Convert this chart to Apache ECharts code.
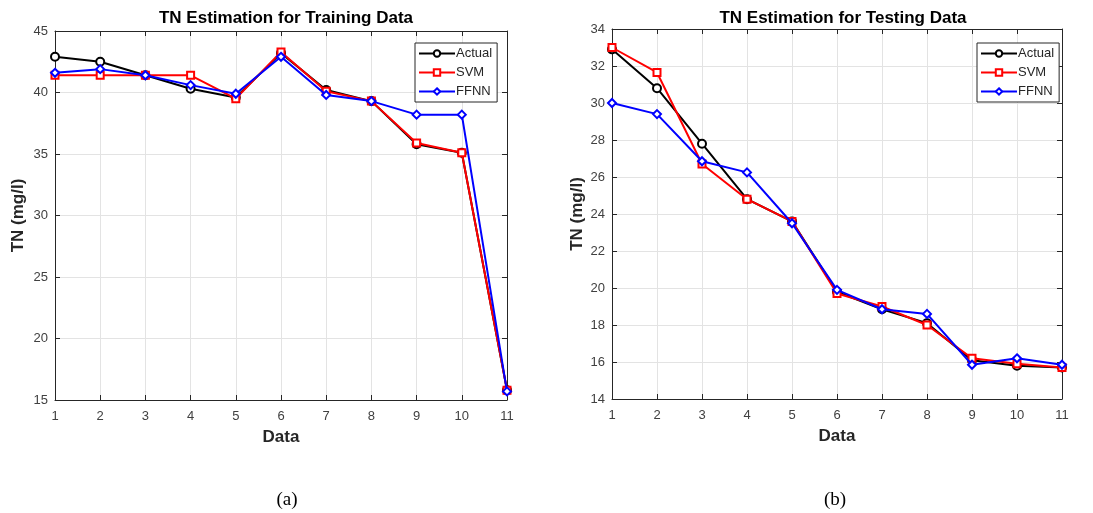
<!DOCTYPE html>
<html>
<head>
<meta charset="utf-8">
<script src="https://cdn.jsdelivr.net/npm/echarts@6/dist/echarts.min.js"></script>
<style>
  html, body { margin: 0; padding: 0; background: #fff; }
  #chart { width: 1093px; height: 513px; }
</style>
</head>
<body>
<div id="chart"></div>
<script>
// sample index on the x axis
var dataIdx = [1, 2, 3, 4, 5, 6, 7, 8, 9, 10, 11];

// (a) training data
var trainActual = [42.9, 42.5, 41.4, 40.3, 39.6, 43.2, 40.2, 39.3, 35.8, 35.1, 15.8];
var trainSVM = [41.4, 41.4, 41.4, 41.4, 39.5, 43.3, 40.1, 39.3, 35.9, 35.1, 15.8];
var trainFFNN = [41.6, 41.9, 41.4, 40.6, 39.9, 42.9, 39.8, 39.3, 38.2, 38.2, 15.7];

// (b) testing data
var testActual = [32.9, 30.8, 27.8, 24.8, 23.6, 19.8, 18.85, 18.1, 16.1, 15.8, 15.7];
var testSVM = [33.0, 31.65, 26.7, 24.8, 23.6, 19.7, 19.0, 18.0, 16.2, 15.9, 15.7];
var testFFNN = [30.0, 29.4, 26.85, 26.25, 23.5, 19.9, 18.85, 18.6, 15.85, 16.2, 15.85];

var seriesNames = ['Actual', 'SVM', 'FFNN'];
var seriesColors = ['#000000', '#ff0000', '#0000ff'];
var seriesSymbols = ['emptyCircle', 'emptyRect', 'emptyDiamond'];

function pairs(values) {
    return dataIdx.map(function (x, i) { return [x, values[i]]; });
}

var font = 'Liberation Sans, Arial, sans-serif';
var axisColor = '#262626';
var labelColor = '#404040';

function makeSeries(name, k, values, gridIdx) {
    return {
        name: name,
        type: 'line',
        xAxisIndex: gridIdx * 2,
        yAxisIndex: gridIdx * 2,
        data: pairs(values),
        symbol: seriesSymbols[k],
        symbolSize: k === 1 ? 7 : 8,
        color: seriesColors[k],
        lineStyle: { width: 2, color: seriesColors[k] },
        itemStyle: { color: seriesColors[k], borderWidth: 1.6 },
        z: 2 + k,
        animation: false
    };
}

function bottomX(gridIdx) {
    return {
        type: 'value', gridIndex: gridIdx, min: 1, max: 11, interval: 1,
        name: 'Data', nameLocation: 'middle', nameGap: 29,
        nameTextStyle: { fontFamily: font, fontSize: 17, fontWeight: 'bold', color: '#262626' },
        axisLine: { show: true, lineStyle: { color: axisColor, width: 1 } },
        axisTick: { show: true, inside: true, length: 5, lineStyle: { color: axisColor } },
        axisLabel: { fontFamily: font, fontSize: 13, color: labelColor, margin: 10 },
        splitLine: { show: true, lineStyle: { color: '#e3e3e3', width: 1 } }
    };
}

function topX(gridIdx) {
    return {
        type: 'value', gridIndex: gridIdx, min: 1, max: 11, interval: 1, position: 'top',
        axisLine: { show: true, lineStyle: { color: axisColor, width: 1 } },
        axisTick: { show: true, inside: true, length: 5, lineStyle: { color: axisColor } },
        axisLabel: { show: false },
        splitLine: { show: false }
    };
}

function leftY(gridIdx, min, max, step, gap) {
    return {
        type: 'value', gridIndex: gridIdx, min: min, max: max, interval: step,
        name: 'TN (mg/l)', nameLocation: 'middle', nameGap: gap, nameRotate: 90,
        nameTextStyle: { fontFamily: font, fontSize: 17, fontWeight: 'bold', color: '#262626' },
        axisLine: { show: true, lineStyle: { color: axisColor, width: 1 } },
        axisTick: { show: true, inside: true, length: 5, lineStyle: { color: axisColor } },
        axisLabel: { fontFamily: font, fontSize: 13, color: labelColor, margin: 7 },
        splitLine: { show: true, lineStyle: { color: '#e3e3e3', width: 1 } }
    };
}

function rightY(gridIdx, min, max, step) {
    return {
        type: 'value', gridIndex: gridIdx, min: min, max: max, interval: step, position: 'right',
        axisLine: { show: true, lineStyle: { color: axisColor, width: 1 } },
        axisTick: { show: true, inside: true, length: 5, lineStyle: { color: axisColor } },
        axisLabel: { show: false },
        splitLine: { show: false }
    };
}

function legendAt(left) {
    return {
        orient: 'vertical', left: left, top: 43,
        data: seriesNames, selectedMode: false,
        itemWidth: 36, itemHeight: 8, itemGap: 6,
        padding: [4, 5, 4, 3],
        backgroundColor: '#ffffff', borderColor: '#262626', borderWidth: 1,
        textStyle: { fontFamily: font, fontSize: 13, color: '#262626', padding: [0, 0, 0, -4] }
    };
}

var chart = echarts.init(document.getElementById('chart'), null, { renderer: 'canvas' });

var option = {
    backgroundColor: '#ffffff',
    animation: false,
    title: [
        { text: 'TN Estimation for Training Data', left: 281, top: 5, textAlign: 'center',
          textStyle: { fontFamily: font, fontSize: 17, fontWeight: 'bold', color: '#000' } },
        { text: 'TN Estimation for Testing Data', left: 838, top: 5, textAlign: 'center',
          textStyle: { fontFamily: font, fontSize: 17, fontWeight: 'bold', color: '#000' } },
        { text: '(a)', left: 282, top: 486, textAlign: 'center',
          textStyle: { fontFamily: 'Liberation Serif, Times New Roman, serif', fontSize: 19, fontWeight: 'normal', color: '#000' } },
        { text: '(b)', left: 830, top: 486, textAlign: 'center',
          textStyle: { fontFamily: 'Liberation Serif, Times New Roman, serif', fontSize: 19, fontWeight: 'normal', color: '#000' } }
    ],
    legend: [legendAt(415), legendAt(977)],
    grid: [
        { left: 55, top: 31, width: 452, height: 369, containLabel: false },
        { left: 612, top: 29, width: 450, height: 370, containLabel: false }
    ],
    xAxis: [bottomX(0), topX(0), bottomX(1), topX(1)],
    yAxis: [leftY(0, 15, 45, 5, 28), rightY(0, 15, 45, 5), leftY(1, 14, 34, 2, 26), rightY(1, 14, 34, 2)],
    series: [
        makeSeries('Actual', 0, trainActual, 0),
        makeSeries('SVM', 1, trainSVM, 0),
        makeSeries('FFNN', 2, trainFFNN, 0),
        makeSeries('Actual', 0, testActual, 1),
        makeSeries('SVM', 1, testSVM, 1),
        makeSeries('FFNN', 2, testFFNN, 1)
    ]
};

chart.setOption(option);
</script>
</body>
</html>
